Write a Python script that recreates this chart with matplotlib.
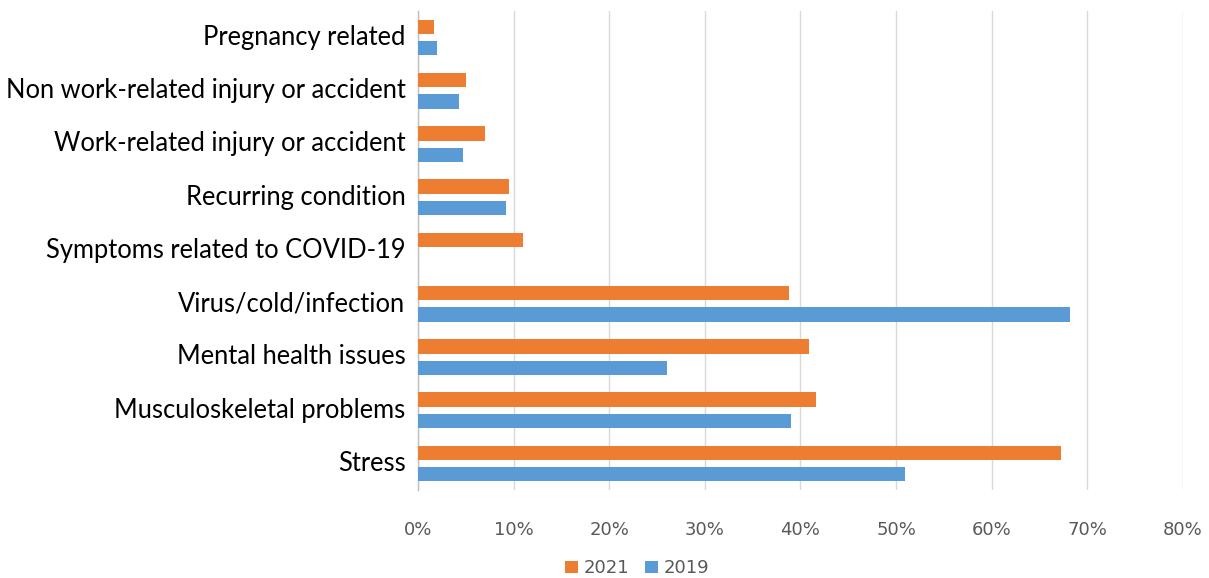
import numpy as np
import matplotlib.pyplot as plt
import matplotlib.transforms as mtransforms

categories = ["Pregnancy related", "Non work-related injury or accident",
              "Work-related injury or accident", "Recurring condition",
              "Symptoms related to COVID-19", "Virus/cold/infection",
              "Mental health issues", "Musculoskeletal problems", "Stress"]
share_2021 = [1.7, 5.0, 7.0, 9.5, 11.0, 38.8, 40.9, 41.6, 67.2]
share_2019 = [2.0, 4.3, 4.7, 9.2, np.nan, 68.2, 26.0, 39.0, 50.9]
xticks = [0, 10, 20, 30, 40, 50, 60, 70, 80]

orange = "#ED7D31"
blue = "#5B9BD5"
tick_font = ["Liberation Sans Narrow", "DejaVu Sans"]

fig = plt.figure(figsize=(12.09, 5.78), dpi=100)
ax = fig.add_axes([0.3457, 0.152, 0.9785 - 0.3457, 0.981 - 0.152])

y = np.arange(len(categories))
h = 0.27
ax.barh(y - 0.2, share_2021, height=h, color=orange, label="2021", zorder=3)
ax.barh(y + 0.2, np.nan_to_num(share_2019), height=h, color=blue, label="2019", zorder=3)

ax.set_ylim(len(categories) - 0.5, -0.5)
ax.set_xlim(0, 80)
ax.set_xticks(xticks)
ax.set_xticklabels([f"{v}%" for v in xticks], color="#595959", fontsize=13,
                   family=tick_font)
ax.set_yticks(y)
ax.set_yticklabels(categories, fontsize=18.4, family="Lato", color="#000000")
ax.tick_params(axis="both", length=0)
ax.tick_params(axis="y", pad=9)
ax.tick_params(axis="x", pad=22)

# nudge category labels up a little
shift = mtransforms.ScaledTranslation(0, 2 / 72, fig.dpi_scale_trans)
for lbl in ax.get_yticklabels():
    lbl.set_transform(lbl.get_transform() + shift)

ax.grid(axis="x", color="#d9d9d9", linewidth=1, zorder=0)
for s in ["top", "right", "bottom"]:
    ax.spines[s].set_visible(False)
ax.spines["left"].set_color("#bfbfbf")
ax.spines["left"].set_linewidth(1)

leg = fig.legend(loc="center", bbox_to_anchor=(0.527, 0.017), ncol=2,
                 frameon=False, handlelength=0.7, handleheight=0.7,
                 handletextpad=0.3, columnspacing=0.9,
                 prop={"family": tick_font, "size": 13})
for t in leg.get_texts():
    t.set_color("#595959")

fig.savefig("out.png", dpi=100)
